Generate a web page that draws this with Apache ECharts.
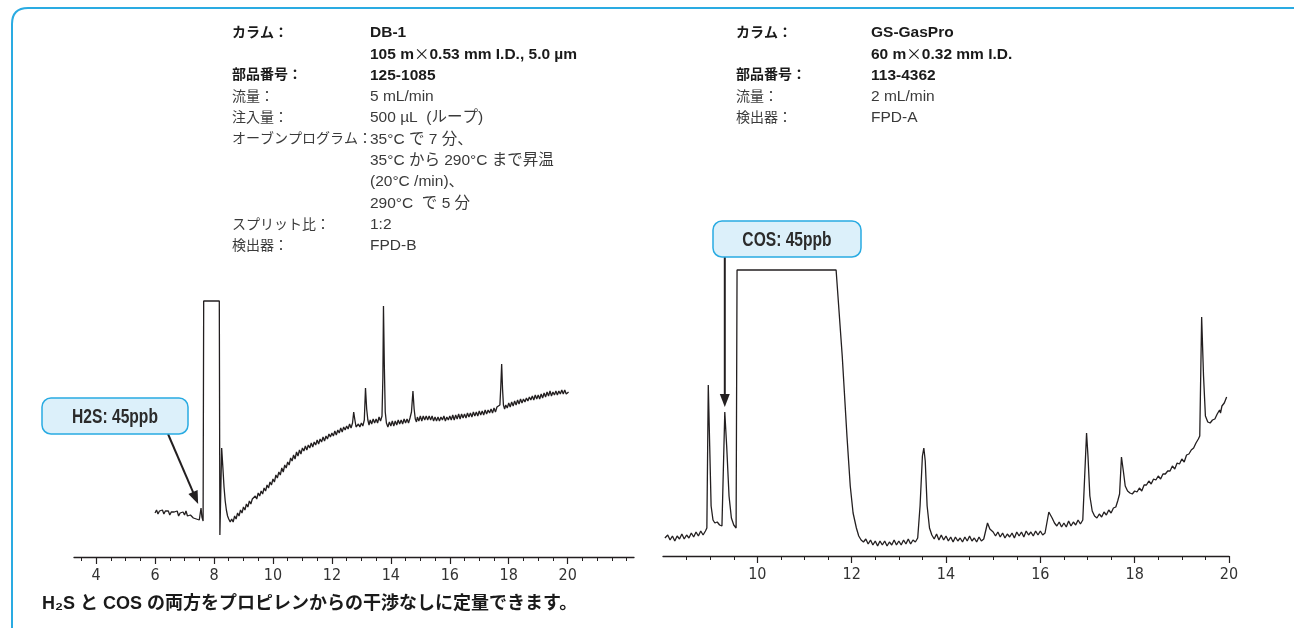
<!DOCTYPE html>
<html><head><meta charset="utf-8">
<script src="https://cdn.jsdelivr.net/npm/echarts@6/dist/echarts.min.js"></script>
<style>html,body{margin:0;padding:0;background:#fff}#c{width:1294px;height:643px}</style>
</head><body><div id="c"></div>
<script>
// ---------- data ----------
const leftMajorTicks = [4,6,8,10,12,14,16,18,20];
const leftMinorTicks = [3.5,4.5,5,5.5,6.5,7,7.5,8.5,9,9.5,10.5,11,11.5,12.5,13,13.5,14.5,15,15.5,16.5,17,17.5,18.5,19,19.5,20.5,21,21.5,22];
const rightMajorTicks = [10,12,14,16,18,20];
const rightMinorTicks = [8.5,9,9.5,10.5,11,11.5,12.5,13,13.5,14.5,15,15.5,16.5,17,17.5,18.5,19,19.5];

const leftTrace = [[6.00,44],[6.05,47],[6.10,43],[6.15,46],[6.20,45],[6.25,47],[6.30,43],[6.35,46],[6.40,44],[6.45,46],[6.50,42],[6.55,45],[6.60,43],[6.65,45],[6.70,44],[6.75,46],[6.80,41],[6.85,44],[6.90,42],[6.95,45],[7.00,42],[7.05,46],[7.10,41],[7.15,43],[7.20,42],[7.25,44],[7.30,39],[7.35,41],[7.40,38],[7.45,40],[7.50,37],[7.53,43],[7.56,49],[7.59,40],[7.63,36],[7.65,256],[8.18,256],[8.20,22],[8.23,23],[8.26,109],[8.30,90],[8.34,70],[8.38,56],[8.42,47],[8.46,41],[8.50,38],[8.55,35],[8.60,38],[8.65,35],[8.70,41],[8.75,38],[8.80,44],[8.85,41],[8.90,47],[8.95,44],[9.00,50],[9.05,47],[9.10,53],[9.15,50],[9.20,56],[9.25,53],[9.30,58],[9.35,56],[9.40,61],[9.45,58],[9.50,64],[9.55,61],[9.60,66],[9.65,63],[9.70,69],[9.75,66],[9.80,72],[9.85,69],[9.90,75],[9.95,72],[10.00,78],[10.05,75],[10.10,82],[10.15,79],[10.20,85],[10.25,82],[10.30,89],[10.35,85],[10.40,92],[10.45,89],[10.50,95],[10.55,92],[10.60,99],[10.65,96],[10.70,102],[10.75,98],[10.80,105],[10.85,101],[10.90,107],[10.95,103],[11.00,109],[11.05,106],[11.10,111],[11.15,107],[11.20,112],[11.25,109],[11.30,114],[11.35,110],[11.40,115],[11.45,112],[11.50,117],[11.55,113],[11.60,118],[11.65,115],[11.70,120],[11.75,116],[11.80,121],[11.85,118],[11.90,123],[11.95,120],[12.00,124],[12.05,121],[12.10,126],[12.15,122],[12.20,127],[12.25,124],[12.30,129],[12.35,125],[12.40,130],[12.45,127],[12.50,131],[12.55,128],[12.60,133],[12.65,129],[12.70,134],[12.74,145],[12.78,137],[12.82,130],[12.86,128],[12.90,133],[12.95,130],[13.00,134],[13.05,131],[13.10,137],[13.14,169],[13.18,148],[13.22,137],[13.26,132],[13.30,137],[13.35,133],[13.40,138],[13.45,134],[13.50,138],[13.55,134],[13.60,140],[13.65,136],[13.70,141],[13.73,180],[13.75,251],[13.78,190],[13.81,145],[13.85,134],[13.90,130],[13.95,135],[14.00,131],[14.05,136],[14.10,131],[14.15,136],[14.20,132],[14.25,137],[14.30,133],[14.35,137],[14.40,133],[14.45,138],[14.50,134],[14.55,138],[14.60,134],[14.65,139],[14.70,145],[14.75,166],[14.79,148],[14.83,138],[14.87,135],[14.90,140],[14.95,136],[15.00,141],[15.05,136],[15.10,141],[15.15,137],[15.20,141],[15.25,137],[15.30,141],[15.35,137],[15.40,141],[15.45,136],[15.50,140],[15.55,136],[15.60,140],[15.65,136],[15.70,140],[15.75,137],[15.80,141],[15.85,136],[15.90,140],[15.95,137],[16.00,141],[16.05,137],[16.10,142],[16.15,137],[16.20,142],[16.25,138],[16.30,143],[16.35,138],[16.40,143],[16.45,139],[16.50,143],[16.55,139],[16.60,144],[16.65,140],[16.70,144],[16.75,140],[16.80,145],[16.85,141],[16.90,145],[16.95,141],[17.00,146],[17.05,142],[17.10,146],[17.15,142],[17.20,147],[17.25,143],[17.30,147],[17.35,144],[17.40,148],[17.45,144],[17.50,149],[17.55,145],[17.60,150],[17.65,148],[17.70,152],[17.73,170],[17.76,193],[17.79,168],[17.82,152],[17.86,148],[17.90,152],[17.95,149],[18.00,154],[18.05,150],[18.10,155],[18.15,151],[18.20,156],[18.25,152],[18.30,157],[18.35,153],[18.40,158],[18.45,154],[18.50,158],[18.55,155],[18.60,159],[18.65,156],[18.70,160],[18.75,157],[18.80,161],[18.85,157],[18.90,162],[18.95,158],[19.00,162],[19.05,158],[19.10,163],[19.15,159],[19.20,164],[19.25,160],[19.30,165],[19.35,161],[19.40,166],[19.45,161],[19.50,165],[19.55,162],[19.60,166],[19.65,162],[19.70,166],[19.75,163],[19.80,167],[19.85,163],[19.90,167],[19.95,163],[20.03,165]];

const rightTrace = [[8.04,18],[8.10,21],[8.15,16],[8.20,20],[8.25,15],[8.30,20],[8.35,17],[8.40,22],[8.45,17],[8.50,21],[8.55,18],[8.60,23],[8.65,19],[8.70,24],[8.75,20],[8.80,25],[8.85,21],[8.90,25],[8.93,28],[8.96,171],[8.99,110],[9.02,50],[9.06,36],[9.10,33],[9.15,34],[9.20,31],[9.25,30],[9.28,29],[9.31,144],[9.35,110],[9.40,60],[9.45,38],[9.50,31],[9.55,28],[9.57,286],[11.67,286],[11.80,200],[11.90,120],[11.97,70],[12.03,43],[12.10,28],[12.15,20],[12.20,16],[12.25,14],[12.30,17],[12.35,12],[12.40,16],[12.45,11],[12.50,15],[12.55,10],[12.60,15],[12.65,11],[12.70,15],[12.75,10],[12.80,14],[12.85,11],[12.90,16],[12.95,11],[13.00,15],[13.05,11],[13.10,16],[13.15,12],[13.20,17],[13.25,12],[13.30,16],[13.35,14],[13.40,18],[13.45,50],[13.50,100],[13.53,108],[13.56,95],[13.60,50],[13.65,28],[13.70,21],[13.75,17],[13.80,22],[13.85,16],[13.90,21],[13.95,16],[14.00,20],[14.05,15],[14.10,19],[14.15,14],[14.20,19],[14.25,15],[14.30,18],[14.35,14],[14.40,19],[14.45,15],[14.50,20],[14.55,15],[14.60,18],[14.65,14],[14.70,19],[14.75,15],[14.80,17],[14.85,27],[14.88,33],[14.93,27],[15.00,24],[15.05,20],[15.10,24],[15.15,19],[15.20,23],[15.25,18],[15.30,22],[15.35,19],[15.40,23],[15.45,18],[15.50,24],[15.55,20],[15.60,24],[15.65,19],[15.70,25],[15.75,21],[15.80,24],[15.85,20],[15.90,25],[15.95,21],[16.00,25],[16.05,21],[16.10,23],[16.14,24],[16.18,44],[16.21,46],[16.25,38],[16.30,33],[16.35,30],[16.40,34],[16.45,29],[16.50,33],[16.55,29],[16.60,35],[16.65,30],[16.70,34],[16.75,31],[16.80,36],[16.85,32],[16.90,36],[16.94,38],[16.98,123],[17.01,100],[17.05,60],[17.10,45],[17.15,40],[17.20,38],[17.25,42],[17.30,39],[17.35,44],[17.40,41],[17.45,46],[17.50,43],[17.55,48],[17.60,49],[17.64,55],[17.68,62],[17.72,99],[17.76,85],[17.80,70],[17.85,65],[17.90,63],[17.95,62],[18.00,65],[18.05,64],[18.10,68],[18.15,65],[18.20,71],[18.25,71],[18.30,75],[18.35,72],[18.40,77],[18.45,76],[18.50,80],[18.55,77],[18.60,82],[18.65,82],[18.70,85],[18.75,85],[18.80,90],[18.85,87],[18.90,93],[18.95,92],[19.00,97],[19.05,94],[19.10,101],[19.15,102],[19.20,106],[19.25,108],[19.30,113],[19.35,117],[19.38,120],[19.42,239],[19.46,180],[19.50,140],[19.55,134],[19.60,133],[19.65,136],[19.70,137],[19.75,142],[19.80,146],[19.82,143],[19.85,150],[19.90,153],[19.95,159]];

const h2sPeak = [7.53, 50];
const cosPeak = [9.31, 144];
const h2sLabel = 'H2S: 45ppb';
const cosLabel = 'COS: 45ppb';

const leftInfoLabels = ['カラム：','','部品番号：','流量：','注入量：','オーブンプログラム：','','','','スプリット比：','検出器：'];
const leftInfoValues = ['DB-1','105 m×0.53 mm I.D., 5.0 µm','125-1085','5 mL/min','500 µL  (ループ)','35°C で 7 分、','35°C から 290°C まで昇温','(20°C /min)、','290°C  で 5 分','1:2','FPD-B'];
const rightInfoLabels = ['カラム：','','部品番号：','流量：','検出器：'];
const rightInfoValues = ['GS-GasPro','60 m×0.32 mm I.D.','113-4362','2 mL/min','FPD-A'];
const caption = 'H₂S と COS の両方をプロピレンからの干渉なしに定量できます。';

// ---------- chart ----------
const INK = '#231f20';
const TXT_FONT = '"Liberation Sans", "Noto Sans CJK JP", sans-serif';
const CJK_FONT = '"Noto Sans CJK JP", sans-serif';
const NARROW = '"Liberation Sans Narrow", "DejaVu Sans Condensed", sans-serif';

function majorAxis(gridIndex, min, max, ticks) {
  return {
    type: 'value', gridIndex, min, max, position: 'bottom',
    splitLine: {show: false},
    axisLine: {show: true, onZero: false, lineStyle: {color: INK, width: 1.3}},
    axisTick: {show: true, length: 7, lineStyle: {color: INK, width: 1.2}, customValues: ticks},
    axisLabel: {show: true, customValues: ticks, margin: 11, fontSize: 16, fontFamily: NARROW, color: '#333'}
  };
}
function minorAxis(gridIndex, min, max, ticks) {
  return {
    type: 'value', gridIndex, min, max, position: 'bottom',
    splitLine: {show: false},
    axisLine: {show: false, onZero: false},
    axisTick: {show: true, length: 4, lineStyle: {color: INK, width: 1}, customValues: ticks},
    axisLabel: {show: false}
  };
}

const chart = echarts.init(document.getElementById('c'));
chart.setOption({
  animation: false,
  backgroundColor: '#fff',
  grid: [
    {left: 74, width: 560, top: 257, height: 300},
    {left: 663, width: 566, top: 256, height: 300}
  ],
  xAxis: [
    majorAxis(0, 3.25, 22.25, leftMajorTicks),
    minorAxis(0, 3.25, 22.25, leftMinorTicks),
    majorAxis(1, 8, 20, rightMajorTicks),
    minorAxis(1, 8, 20, rightMinorTicks)
  ],
  yAxis: [
    {type: 'value', gridIndex: 0, min: 0, max: 300, show: false},
    {type: 'value', gridIndex: 1, min: 0, max: 300, show: false}
  ],
  series: [
    {type: 'line', xAxisIndex: 0, yAxisIndex: 0, data: leftTrace, showSymbol: false, symbol: 'none',
     lineStyle: {color: INK, width: 1.3}, silent: true},
    {type: 'line', xAxisIndex: 2, yAxisIndex: 1, data: rightTrace, showSymbol: false, symbol: 'none',
     lineStyle: {color: INK, width: 1.3}, silent: true}
  ]
});

function arrow(start, tip) {
  const dx = tip[0] - start[0], dy = tip[1] - start[1];
  const L = Math.sqrt(dx*dx + dy*dy), ux = dx/L, uy = dy/L;
  const hl = 13, hw = 5;
  const bx = tip[0] - ux*hl, by = tip[1] - uy*hl;
  return [
    {type: 'line', shape: {x1: start[0], y1: start[1], x2: bx + ux*2, y2: by + uy*2},
     style: {stroke: INK, lineWidth: 2}, z: 10},
    {type: 'polygon', shape: {points: [[tip[0], tip[1]], [bx - uy*hw, by + ux*hw], [bx + uy*hw, by - ux*hw]]},
     style: {fill: INK}, z: 10}
  ];
}
function callout(x, y, w, h, text) {
  return [
    {type: 'rect', shape: {x, y, width: w, height: h, r: 9},
     style: {fill: '#dcf0fa', stroke: '#29abe2', lineWidth: 1.5}, z: 11},
    {type: 'text', x: x + w/2, y: y + h/2 + 1, scaleX: 0.78, z: 12,
     style: {text, fontSize: 20, fontWeight: 'bold', fontFamily: TXT_FONT, fill: '#2b2b2b', align: 'center', verticalAlign: 'middle'}}
  ];
}
function infoBlock(x1, x2, y0, dy, labels, values, boldRows) {
  const out = [];
  for (let i = 0; i < values.length; i++) {
    const bold = i < boldRows;
    const base = {fontWeight: bold ? 'bold' : 'normal', fontFamily: TXT_FONT,
                  fill: bold ? '#1a1a1a' : '#3a3a3a', verticalAlign: 'middle', align: 'left'};
    if (labels[i]) out.push({type: 'text', x: x1, y: y0 + i*dy, style: Object.assign({text: labels[i], fontSize: 14}, base)});
    const txt = values[i].replace('×', '{x|×}');
    out.push({type: 'text', x: x2, y: y0 + i*dy, style: Object.assign({text: txt, fontSize: 15.5,
      rich: {x: {fontFamily: CJK_FONT, fontSize: 15.5, fontWeight: 'normal', fill: base.fill}}}, base)});
  }
  return out;
}

const tipL = chart.convertToPixel({seriesIndex: 0}, h2sPeak);
const tipR = chart.convertToPixel({seriesIndex: 1}, cosPeak);

const FRAME = '#2aabe2';
const gfx = [].concat(
  [
    {type: 'line', shape: {x1: 12, y1: 628, x2: 12, y2: 24}, style: {stroke: FRAME, lineWidth: 2}},
    {type: 'bezierCurve', shape: {x1: 12, y1: 24, x2: 28, y2: 8, cpx1: 12, cpy1: 8}, style: {stroke: FRAME, lineWidth: 2, fill: null}},
    {type: 'line', shape: {x1: 28, y1: 8, x2: 1294, y2: 8}, style: {stroke: FRAME, lineWidth: 2}}
  ],
  infoBlock(232, 370, 33, 21.3, leftInfoLabels, leftInfoValues, 3),
  infoBlock(736, 871, 33, 21.3, rightInfoLabels, rightInfoValues, 3),
  callout(42, 398, 146, 36, h2sLabel),
  callout(713, 221, 148, 36, cosLabel),
  arrow([168, 434], [tipL[0] - 2, tipL[1] - 3]),
  arrow([tipR[0], 257], [tipR[0], tipR[1] - 5]),
  [{type: 'text', x: 42, y: 604,
    style: {text: caption, fontSize: 18, fontWeight: 'bold', fontFamily: TXT_FONT, fill: '#1a1a1a', verticalAlign: 'middle'}}]
);
chart.setOption({graphic: gfx});
</script>
</body></html>
